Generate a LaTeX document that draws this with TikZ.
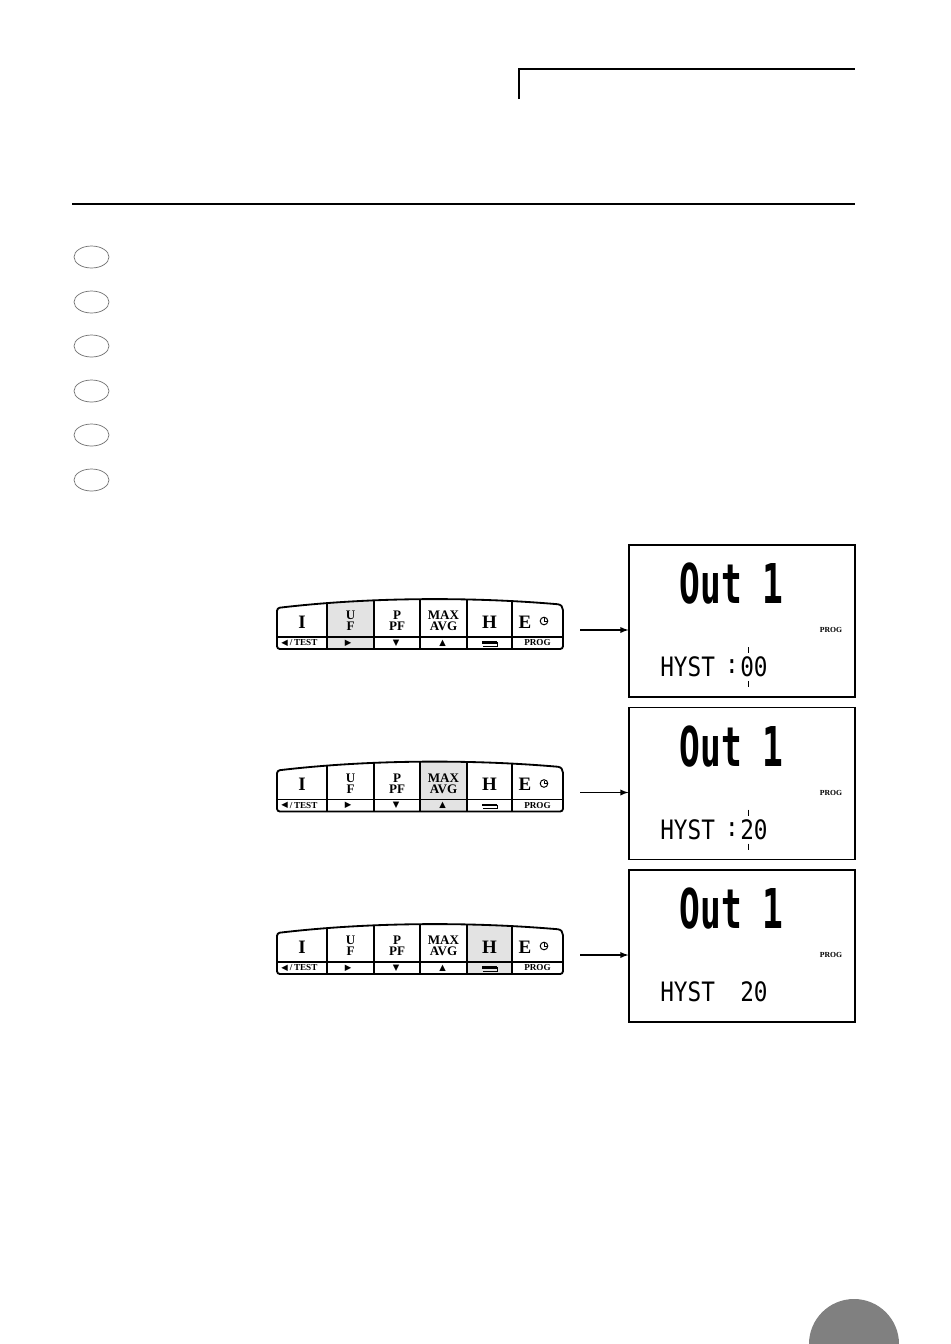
\documentclass[tikz,border=0pt]{standalone}
\usepackage{fontspec}
\usetikzlibrary{positioning, calc}
\newfontfamily\keyfont{Liberation Serif}
\newfontfamily\lcdfont{DejaVu Sans Mono}
\newfontfamily\symfont{DejaVu Sans}
\tikzset{
	px/.style={x=0.025cm, y=-0.025cm},
	rule/.style={line width=0.8pt},
	markoval/.style={draw=black!55, line width=0.5pt},
	keyframe/.style={line width=1.3pt, rounded corners=2pt},
	keyline/.style={line width=0.9pt},
	keyhl/.style={fill=black!11},
	keybig/.style={font=\keyfont\bfseries\fontsize{13.5}{13.5}\selectfont, inner sep=0pt},
	keylabel/.style={
		font=\keyfont\bfseries\fontsize{9.3}{8}\selectfont,
		align=center,
		inner sep=0pt
	},
	striplabel/.style={font=\keyfont\bfseries\fontsize{6.5}{6.5}\selectfont, inner sep=0pt},
	arrowsym/.style={font=\symfont\fontsize{6}{6}\selectfont, inner sep=0pt},
	lcd/.style={
		draw,
		line width=0.8pt,
		minimum width=5.65cm,
		minimum height=3.8cm,
		inner sep=0pt
	},
	lcdbig/.style={font=\lcdfont\bfseries\fontsize{39}{39}\selectfont, inner sep=0pt},
	lcdsmall/.style={font=\lcdfont\fontsize{19}{19}\selectfont, inner sep=0pt, anchor=west},
	progtag/.style={font=\keyfont\bfseries\fontsize{5.5}{5.5}\selectfont, inner sep=0pt},
	blinktick/.style={line width=0.6pt},
	flow/.style={->, >=latex, line width=1pt}
}

\begin{document}
\begin{tikzpicture}[px]
	\useasboundingbox (0,0) rectangle (950,1344);
	\fill[white] (0,0) rectangle (950,1344);

	% page header and rule
	\draw[rule] (519,99) -- (519,69) -- (855,69);
	\draw[line width=0.9pt] (72,204) -- (855,204);

	% step markers
	\foreach \y [count=\i] in {257,302,346,391,435,480} {
		\draw[markoval] (91.5,\y) ellipse [x radius=17.5, y radius=11];
		\coordinate (step\i) at (91.5,\y);
	}

	% keypad -> display, one row per key press
	\foreach \row/\dy/\hlL/\hlR/\val/\blink in {1/0/327/374/00/1, 2/162.5/420/467/20/1, 3/325/467/512/20/0} {
	\begin{scope}[shift={(0,\dy)}]
		% keypad body
		\begin{scope}
		\clip (277,649) -- (277,608) .. controls (370,597) and (470,597) .. (555,604)
			.. controls (561,604.5) and (563,607) .. (563,613) -- (563,649) -- cycle;
		\fill[keyhl] (\hlL,590) rectangle (\hlR,655);
		\foreach \x in {327,374,420,467,512} {
			\draw[keyline] (\x,590) -- (\x,655);
		}
		\draw[keyline] (277,637) -- (563,637);
		\end{scope}
		\draw[keyframe] (277,649) -- (277,608) .. controls (370,597) and (470,597) .. (555,604)
			.. controls (561,604.5) and (563,607) .. (563,613) -- (563,649) -- cycle;

		% key labels
		\node[keybig] (key\row-1) at (302,622) {I};
		\node[keylabel] (key\row-2) at (350.5,621) {U\\F};
		\node[keylabel] (key\row-3) at (397,621) {P\\PF};
		\node[keylabel] (key\row-4) at (443.5,621) {MAX\\AVG};
		\node[keybig] (key\row-5) at (489.5,622) {H};
		\node[keybig] (key\row-6) at (525,622) {E};
		\draw[line width=0.7pt] (544,621) circle (3.8);
		\draw[line width=0.6pt] (544,618.3) -- (544,621) -- (546.7,621);

		% second function strip
		\node[arrowsym] (fn\row-0) at (284.5,643) {◀};
		\node[striplabel, right=1.2pt of fn\row-0] (fn\row-1) {/\,TEST};
		\node[arrowsym] (fn\row-2) at (348,643) {▶};
		\node[arrowsym] (fn\row-3) at (396,643) {▼};
		\node[arrowsym] (fn\row-4) at (442.5,643) {▲};
		\fill (482,641.3) rectangle (497,643.6);
		\draw[line width=0.5pt] (497,642) -- (497,646) -- (483,646);
		\node[striplabel] (fn\row-6) at (537.5,643) {PROG};

		% display
		\node[lcd] (lcd\row) at (742,621) {};
		\node[lcdbig] (title\row) at (731.5,584) {\scalebox{0.63}[1]{Out 1}};
		\node[progtag] (prog\row) at (831,630) {PROG};
		\node[lcdsmall] (hyst\row) at (660,667) {\scalebox{0.85}[1]{HYST}};
		\node[lcdsmall] (val\row) at (740,667) {\scalebox{0.85}[1]{\val}};
		\ifnum\blink=1
			\node[lcdsmall, anchor=center] (colon\row) at (732,667) {\scalebox{0.85}[1]{:}};
			\draw[blinktick] (748,647) -- (748,653);
			\draw[blinktick] (748,681) -- (748,687);
		\fi

		% press -> result
		\coordinate (out\row) at (580,630);
		\draw[flow] (out\row) -- (out\row -| lcd\row.west);
	\end{scope}
	}

	% page tab
	\begin{scope}
	\clip (0,0) rectangle (950,1344);
	\fill[black!50] (854,1344) circle (45);
	\end{scope}
\end{tikzpicture}
\end{document}
